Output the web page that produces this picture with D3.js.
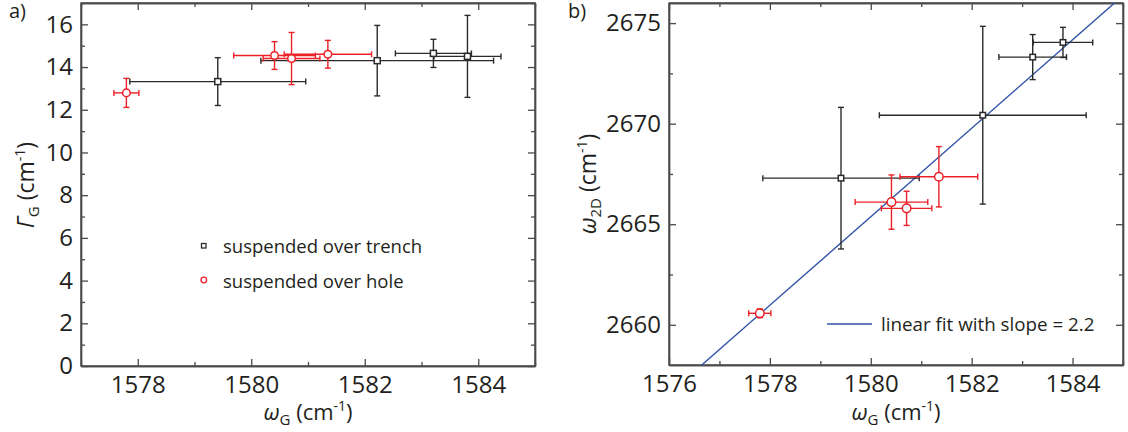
<!DOCTYPE html>
<html><head><meta charset="utf-8">
<script src="https://cdn.jsdelivr.net/npm/d3@7"></script>
<style>
body{margin:0;background:#fff;}
svg{display:block;font-family:"Open Sans",sans-serif;}
.axis path{stroke:#4a4a4a;stroke-width:1.4;}
.axis line{stroke:#4a4a4a;stroke-width:1.3;}
.axis text{fill:#231f20;font-size:24px;font-family:"Open Sans",sans-serif;}
</style></head>
<body>
<svg id="chart" width="1128" height="432"></svg>
<script>
// ---- data ----
const trenchWG    = [1579.41, 1582.22, 1583.21, 1583.81];
const trenchWGerr = [1.55, 2.05, 0.67, 0.59];
const trenchGammaG    = [13.32, 14.30, 14.64, 14.50];
const trenchGammaGerr = [1.12, 1.65, 0.66, 1.92];
const trenchW2D    = [2667.29, 2670.42, 2673.31, 2674.04];
const trenchW2Derr = [3.52, 4.42, 1.12, 0.75];

const holeWG    = [1577.80, 1580.41, 1580.71, 1581.35];
const holeWGerr = [0.22, 0.72, 0.50, 0.77];
const holeGammaG    = [12.79, 14.54, 14.40, 14.60];
const holeGammaGerr = [0.68, 0.65, 1.22, 0.65];
const holeW2D    = [2660.57, 2666.10, 2665.79, 2667.36];
const holeW2Derr = [0.22, 1.35, 0.85, 1.50];

const fitSlope = 2.2;
const fitIntercept = -810.63;

const aXTicks = [1578, 1580, 1582, 1584];
const aXMinor = [1577, 1579, 1581, 1583, 1585];
const aYTicks = [0, 2, 4, 6, 8, 10, 12, 14, 16];
const aYMinor = [1, 3, 5, 7, 9, 11, 13, 15, 17];
const bXTicks = [1576, 1578, 1580, 1582, 1584];
const bXMinor = [1577, 1579, 1581, 1583, 1585];
const bYTicks = [2660, 2665, 2670, 2675];
const bYMinor = [2662.5, 2667.5, 2672.5];

const legendA = ["suspended over trench", "suspended over hole"];
const legendB = "linear fit with slope = 2.2";

const BLACK = "#2b2b2b", RED = "#ec2127", BLUE = "#2f52a8", TXT = "#231f20";

const svg = d3.select("#chart");

function zip(xs, xe, ys, ye){ return xs.map((x,i)=>({x, xe:xe[i], y:ys[i], ye:ye[i]})); }

function frame(g, x, y, xt, xm, yt, ym, fmt){
  const [x0,x1] = x.range(), [y0,y1] = y.range();
  const MJ = -7, MN = -4;
  g.append("g").attr("class","axis").attr("transform",`translate(0,${y0})`)
    .call(d3.axisBottom(x).tickValues(xt).tickSize(MJ).tickSizeOuter(0).tickPadding(10).tickFormat(d3.format("d")));
  g.append("g").attr("class","axis").attr("transform",`translate(0,${y0})`)
    .call(d3.axisBottom(x).tickValues(xm).tickSize(MN).tickSizeOuter(0).tickFormat(""));
  g.append("g").attr("class","axis").attr("transform",`translate(0,${y1})`)
    .call(d3.axisTop(x).tickValues(xt).tickSize(MJ).tickSizeOuter(0).tickFormat(""));
  g.append("g").attr("class","axis").attr("transform",`translate(0,${y1})`)
    .call(d3.axisTop(x).tickValues(xm).tickSize(MN).tickSizeOuter(0).tickFormat(""));
  g.append("g").attr("class","axis").attr("transform",`translate(${x0},0)`)
    .call(d3.axisLeft(y).tickValues(yt).tickSize(MJ).tickSizeOuter(0).tickPadding(8).tickFormat(fmt));
  g.append("g").attr("class","axis").attr("transform",`translate(${x0},0)`)
    .call(d3.axisLeft(y).tickValues(ym).tickSize(MN).tickSizeOuter(0).tickFormat(""));
  g.append("g").attr("class","axis").attr("transform",`translate(${x1},0)`)
    .call(d3.axisRight(y).tickValues(yt).tickSize(MJ).tickSizeOuter(0).tickFormat(""));
  g.append("g").attr("class","axis").attr("transform",`translate(${x1},0)`)
    .call(d3.axisRight(y).tickValues(ym).tickSize(MN).tickSizeOuter(0).tickFormat(""));
  g.append("rect").attr("x",x0).attr("y",y1).attr("width",x1-x0).attr("height",y0-y1)
    .attr("fill","none").attr("stroke","#4a4a4a").attr("stroke-width",1.4);
}

function errorBars(g, data, x, y, color){
  const cap = 3;
  const eb = g.append("g").attr("stroke",color).attr("stroke-width",1.4).attr("fill","none");
  data.forEach(d=>{
    const cx = x(d.x), cy = y(d.y);
    const xl = x(d.x-d.xe), xr = x(d.x+d.xe), yt = y(d.y+d.ye), yb = y(d.y-d.ye);
    eb.append("line").attr("x1",xl).attr("x2",xr).attr("y1",cy).attr("y2",cy);
    eb.append("line").attr("x1",xl).attr("x2",xl).attr("y1",cy-cap).attr("y2",cy+cap);
    eb.append("line").attr("x1",xr).attr("x2",xr).attr("y1",cy-cap).attr("y2",cy+cap);
    eb.append("line").attr("x1",cx).attr("x2",cx).attr("y1",yt).attr("y2",yb);
    eb.append("line").attr("x1",cx-cap).attr("x2",cx+cap).attr("y1",yt).attr("y2",yt);
    eb.append("line").attr("x1",cx-cap).attr("x2",cx+cap).attr("y1",yb).attr("y2",yb);
  });
}
function squares(g, data, x, y, s){
  g.append("g").selectAll("rect").data(data).join("rect")
    .attr("x",d=>x(d.x)-s/2).attr("y",d=>y(d.y)-s/2).attr("width",s).attr("height",s)
    .attr("fill","#fff").attr("stroke",BLACK).attr("stroke-width",1.5);
}
function circles(g, data, x, y, r){
  g.append("g").selectAll("circle").data(data).join("circle")
    .attr("cx",d=>x(d.x)).attr("cy",d=>y(d.y)).attr("r",r)
    .attr("fill","#fff").attr("stroke",RED).attr("stroke-width",1.5);
}

function titleSpans(t, sym, sub){
  t.append("tspan").attr("font-style","italic").text(sym);
  t.append("tspan").attr("dy","5").style("font-size","15px").text(sub);
  t.append("tspan").attr("dy","-5").text(" (cm");
  t.append("tspan").attr("dy","-9").style("font-size","14px").text("-1");
  t.append("tspan").attr("dy","9").text(")");
}
function yTitle(g, cx, cy, sym, sub){
  const t = g.append("text").attr("transform",`translate(${cx},${cy}) rotate(-90)`)
    .attr("text-anchor","middle").attr("fill",TXT).style("font-size","23px");
  titleSpans(t, sym, sub);
}
function xTitle(g, cx, cy, sym, sub){
  const t = g.append("text").attr("x",cx).attr("y",cy)
    .attr("text-anchor","middle").attr("fill",TXT).style("font-size","22px");
  titleSpans(t, sym, sub);
}

// ---- panel a ----
const xA = d3.scaleLinear().domain([1577,1585]).range([81,535]);
const yA = d3.scaleLinear().domain([0,17]).range([366,3]);
const gA = svg.append("g");
frame(gA, xA, yA, aXTicks, aXMinor, aYTicks, aYMinor, d3.format("d"));
const tA = zip(trenchWG, trenchWGerr, trenchGammaG, trenchGammaGerr);
const hA = zip(holeWG, holeWGerr, holeGammaG, holeGammaGerr);
errorBars(gA, tA, xA, yA, BLACK);
errorBars(gA, hA, xA, yA, RED);
squares(gA, tA, xA, yA, 6);
circles(gA, hA, xA, yA, 3.8);
yTitle(gA, 34, 185, "Γ", "G");
xTitle(gA, 308, 420, "ω", "G");
gA.append("text").attr("x",9).attr("y",18).attr("fill",TXT).style("font-size","20px").text("a)");
// legend a
gA.append("rect").attr("x",201.5).attr("y",243.5).attr("width",4.5).attr("height",4.5)
  .attr("fill","#fff").attr("stroke",BLACK).attr("stroke-width",1.3);
gA.append("circle").attr("cx",203.8).attr("cy",280).attr("r",2.8)
  .attr("fill","#fff").attr("stroke",RED).attr("stroke-width",1.3);
gA.selectAll("text.leg").data(legendA).join("text").attr("class","leg")
  .attr("x",223).attr("y",(d,i)=>253+i*35).attr("fill",TXT).style("font-size","18.5px").text(d=>d);

// ---- panel b ----
const xB = d3.scaleLinear().domain([1576,1585]).range([669,1123]);
const yB = d3.scaleLinear().domain([2658,2676]).range([365,3]);
const gB = svg.append("g");
svg.append("defs").append("clipPath").attr("id","clipB").append("rect")
  .attr("x",669).attr("y",3).attr("width",454).attr("height",362);
frame(gB, xB, yB, bXTicks, bXMinor, bYTicks, bYMinor, d3.format("d"));
const fitX = xB.domain();
gB.append("line").attr("clip-path","url(#clipB)")
  .attr("x1",xB(fitX[0])).attr("y1",yB(fitSlope*fitX[0]+fitIntercept))
  .attr("x2",xB(fitX[1])).attr("y2",yB(fitSlope*fitX[1]+fitIntercept))
  .attr("stroke",BLUE).attr("stroke-width",1.4);
const tB = zip(trenchWG, trenchWGerr, trenchW2D, trenchW2Derr);
const hB = zip(holeWG, holeWGerr, holeW2D, holeW2Derr);
errorBars(gB, tB, xB, yB, BLACK);
errorBars(gB, hB, xB, yB, RED);
squares(gB, tB, xB, yB, 5.5);
circles(gB, hB, xB, yB, 4.3);
yTitle(gB, 596, 184, "ω", "2D");
xTitle(gB, 896, 420, "ω", "G");
gB.append("text").attr("x",568).attr("y",17.5).attr("fill",TXT).style("font-size","20px").text("b)");
gB.append("line").attr("x1",827).attr("x2",872).attr("y1",324).attr("y2",324)
  .attr("stroke",BLUE).attr("stroke-width",1.4);
gB.append("text").attr("x",881).attr("y",331).attr("fill",TXT).style("font-size","18.8px").text(legendB);
</script>
</body></html>
